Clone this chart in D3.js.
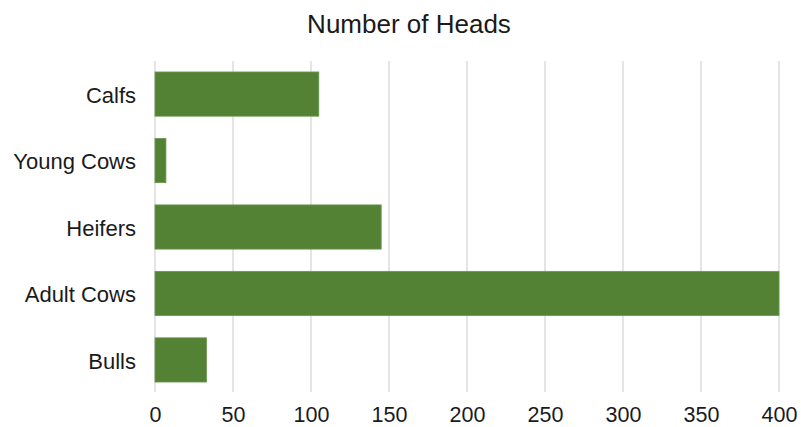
<!DOCTYPE html>
<html>
<head>
<meta charset="utf-8">
<script src="https://cdn.jsdelivr.net/npm/d3@7"></script>
<style>
  html, body { margin: 0; padding: 0; background: #ffffff; }
  svg { display: block; font-family: "Liberation Sans", Arial, sans-serif; }
</style>
</head>
<body>
<svg id="chart" width="801" height="427"></svg>
<script>
// Herd composition
const categories = ["Calfs", "Young Cows", "Heifers", "Adult Cows", "Bulls"];
const heads = [105, 7, 145, 400, 33];
const xTicks = [0, 50, 100, 150, 200, 250, 300, 350, 400];

const svg = d3.select("#chart");
const margin = { left: 155, right: 22, top: 61, bottom: 34 };
const W = 801, H = 427;

const x = d3.scaleLinear().domain([0, 400]).range([margin.left, W - margin.right]);
const y = d3.scaleBand().domain(categories).range([margin.top, H - margin.bottom]).paddingInner(0.335).paddingOuter(0.165);

// Title
svg.append("text")
  .attr("x", 409).attr("y", 33)
  .attr("text-anchor", "middle")
  .attr("font-size", 26)
  .attr("fill", "#1a1a1a")
  .text("Number of Heads");

// Vertical gridlines
svg.append("g").selectAll("line").data(xTicks).join("line")
  .attr("x1", d => x(d)).attr("x2", d => x(d))
  .attr("y1", margin.top).attr("y2", H - margin.bottom - 1)
  .attr("stroke", "#d3d3d3").attr("stroke-width", 1.2);

// Bars
svg.append("g").selectAll("rect").data(categories).join("rect")
  .attr("x", x(0))
  .attr("y", d => y(d))
  .attr("width", (d, i) => x(heads[i]) - x(0))
  .attr("height", y.bandwidth())
  .attr("fill", "#548235")
  .attr("stroke", "#6a9650")
  .attr("stroke-width", 0.8);

// X axis labels (baseline kept just inside the bottom edge)
const xAxis = d3.axisBottom(x).tickValues(xTicks).tickSize(0).tickPadding(0);
const gx = svg.append("g").attr("transform", `translate(0, 422)`).call(xAxis);
gx.select(".domain").remove();
gx.selectAll("text").attr("font-size", 21.5).attr("fill", "#1a1a1a")
  .attr("font-family", "Liberation Sans, Arial, sans-serif").attr("dy", "0");

// Y axis labels
const yAxis = d3.axisLeft(y).tickSize(0).tickPadding(19);
const gy = svg.append("g").attr("transform", `translate(${margin.left}, 0)`).call(yAxis);
gy.select(".domain").remove();
gy.selectAll("text").attr("font-size", 22).attr("fill", "#1a1a1a")
  .attr("font-family", "Liberation Sans, Arial, sans-serif").attr("dy", "0.4em");
</script>
</body>
</html>
